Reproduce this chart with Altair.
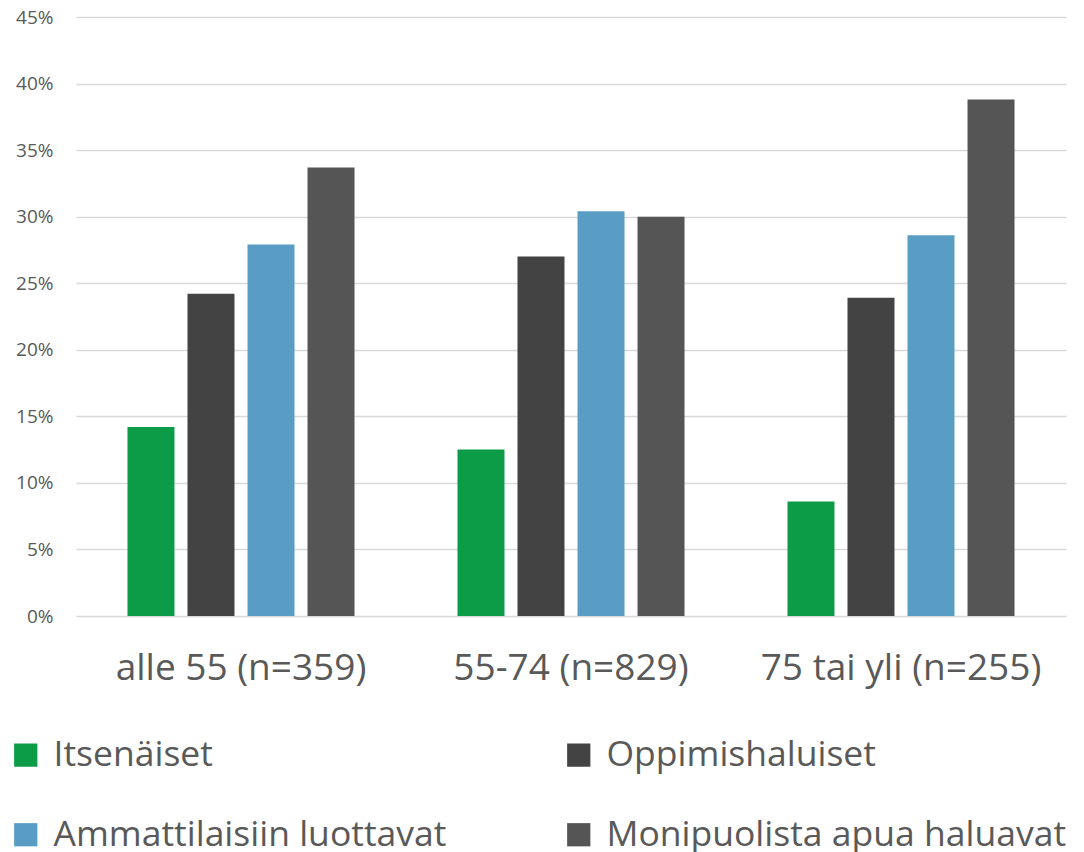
import altair as alt
import pandas as pd

categories = ["alle 55 (n=359)", "55-74 (n=829)", "75 tai yli (n=255)"]
series = ["Itsenäiset", "Oppimishaluiset", "Ammattilaisiin luottavat", "Monipuolista apua haluavat"]
itsenaiset = [0.142, 0.125, 0.086]
oppimishaluiset = [0.242, 0.270, 0.239]
ammattilaisiin = [0.279, 0.304, 0.286]
monipuolista = [0.337, 0.300, 0.388]
colors = ["#0C9C48", "#434343", "#5A9DC4", "#555555"]

rows = []
for s, vals in zip(series, [itsenaiset, oppimishaluiset, ammattilaisiin, monipuolista]):
    for c, v in zip(categories, vals):
        rows.append({"ryhma": c, "sarja": s, "osuus": v})
df = pd.DataFrame(rows)

FONT = "Open Sans"
chart = alt.Chart(df).mark_bar().encode(
    x=alt.X("ryhma:N", sort=categories, title=None,
            scale=alt.Scale(paddingInner=0.312, paddingOuter=0.156),
            axis=alt.Axis(labelAngle=0, domain=False, ticks=False, labelPadding=34,
                          labelFontSize=37, labelColor="#595959", labelFont=FONT,
                          labelFontWeight="normal", labelLimit=1000)),
    xOffset=alt.XOffset("sarja:N", sort=series,
                        scale=alt.Scale(paddingInner=0.217, paddingOuter=0)),
    y=alt.Y("osuus:Q", title=None,
            scale=alt.Scale(domain=[0, 0.45], nice=False),
            axis=alt.Axis(values=[0, 0.05, 0.1, 0.15, 0.2, 0.25, 0.3, 0.35, 0.4, 0.45],
                          format=".0%", domain=False, ticks=False, labelPadding=23,
                          labelFontSize=19, labelColor="#595959", labelFont=FONT,
                          gridColor="#D9D9D9", gridWidth=1.5)),
    color=alt.Color("sarja:N", sort=series,
                    scale=alt.Scale(domain=series, range=colors),
                    legend=alt.Legend(title=None, orient="none", direction="horizontal",
                                      legendX=-68, legendY=720,
                                      columns=2, columnPadding=114, rowPadding=43,
                                      symbolType="square", symbolSize=540, symbolStrokeWidth=0,
                                      symbolOpacity=1, labelFontSize=35.5, labelColor="#595959",
                                      labelFont=FONT, labelOffset=10, labelLimit=700)),
).properties(
    width=990, height=599,
    padding={"left": 68, "top": 9, "right": 10, "bottom": 236},
    autosize=alt.AutoSizeParams(type="none"),
).configure_view(stroke=None).configure_axisX(grid=False)

chart.save("out.html", embed_options={"renderer": "svg", "actions": False})
